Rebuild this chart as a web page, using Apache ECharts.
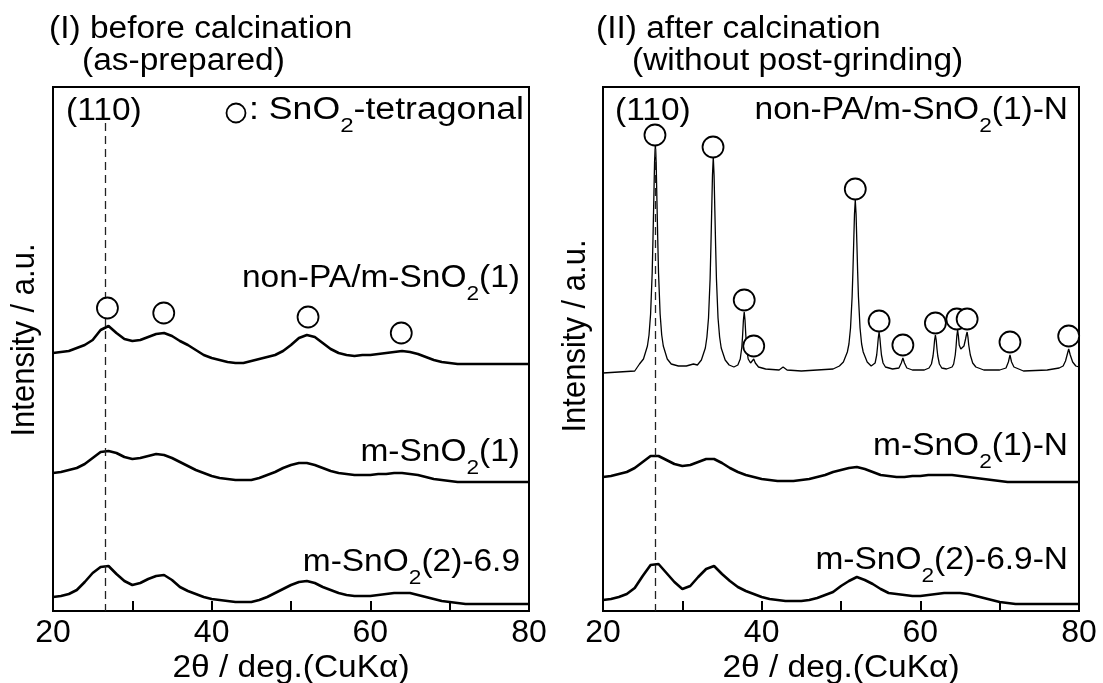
<!DOCTYPE html>
<html><head><meta charset="utf-8">
<script src="https://cdn.jsdelivr.net/npm/echarts@6/dist/echarts.min.js"></script>
<style>html,body{margin:0;padding:0;background:#fff}#c{width:1103px;height:683px}</style>
</head><body><div id="c"></div>
<script>
// 2θ grid (deg) for the broad patterns
const twoTheta = [20,21,22,23,24,25,26,27,28,29,30,31,32,33,34,35,36,37,38,39,40,41,42,43,44,45,46,47,48,49,50,51,52,53,54,55,56,57,58,59,60,61,62,63,64,65,66,67,68,69,70,71,72,73,74,75,76,77,78,79,80];

// Panel (I) before calcination (intensity, a.u., stacked)
const nonPA_1 = [258,259,260,263,266,271,281,285,278,272,270,271,274,277,278,275,270,266,261,256,253,251,249,248,248,250,252,254,256,260,266,273,276,274,268,262,258,256,255,256,256,257,258,259,260,259,257,254,251,249,248,247,247,247,247,247,247,247,247,247,247];
const mSnO2_1 = [138,139,141,143,147,153,159,160,158,154,152,153,155,157,156,153,149,145,141,138,135,133,132,131,131,131,133,136,139,143,146,148,148,146,143,140,138,137,136,136,136,137,137,138,138,137,136,134,132,131,130,129,129,129,129,129,129,129,129,129,129];
const mSnO2_2_69 = [14,15,17,21,29,38,44,45,37,30,26,28,32,35,36,31,24,20,17,14,12,11,10,9,9,9,11,14,18,22,26,29,30,28,24,21,18,16,15,15,15,16,17,18,18,18,16,14,12,10,9,8,7,7,7,7,7,7,7,7,7];

// Panel (II) after calcination
const nonPA_1N_theta = [20,22,24,24.6,25.1,25.6,25.8,26.0,26.2,26.3,26.4,26.5,26.6,26.7,26.8,26.9,27.0,27.2,27.4,27.6,28.1,28.6,29.5,30.5,31.4,31.9,32.4,32.9,33.1,33.3,33.5,33.6,33.7,33.8,33.9,34.0,34.1,34.2,34.3,34.5,34.7,34.9,35.4,35.9,36.5,37.0,37.3,37.5,37.6,37.7,37.8,37.9,38.0,38.1,38.3,38.6,38.8,39.0,39.2,39.6,40.5,42.2,42.7,43.2,45,47,49,49.8,50.3,50.8,51.0,51.2,51.4,51.5,51.6,51.7,51.8,51.9,52.0,52.1,52.2,52.4,52.6,52.8,53.3,53.8,54.0,54.3,54.5,54.6,54.7,54.8,54.9,55.0,55.1,55.3,55.6,56.5,57.3,57.6,57.8,58.0,58.3,59,60.5,61.1,61.4,61.6,61.7,61.8,61.9,62.0,62.1,62.2,62.4,62.7,63.3,64.0,64.2,64.4,64.5,64.6,64.7,64.8,64.9,65.1,65.3,65.5,65.7,65.8,65.9,66.0,66.1,66.3,66.6,67.0,68,70,70.8,71.1,71.3,71.5,71.8,73,76,77.5,78.0,78.3,78.5,78.7,78.9,79.2,79.6,80];
const nonPA_1N = [238,239,240,247,252,265,276,297,338,372,410,449,467,449,410,372,338,297,276,265,252,247,245,245,247,246,251,263,274,293,332,364,400,436,454,436,400,364,332,293,274,263,251,246,244,246,252,264,276,291,299,291,276,264,252,248,249,252,248,244,242,241,244,241,240,241,242,245,249,259,267,283,314,339,368,397,411,397,368,339,314,283,267,259,249,245,246,248,256,264,273,279,273,264,256,248,244,242,243,248,253,248,243,241,241,243,247,255,262,271,276,271,262,255,247,243,242,244,247,256,264,275,281,275,266,262,261,265,272,276,279,274,266,256,248,244,241,241,243,249,256,249,244,240,241,243,245,250,256,262,256,249,245,244];
const mSnO2_1N = [134,135,137,139,143,149,155,155,151,147,145,146,149,152,152,148,143,139,136,134,132,131,130,130,130,131,132,134,136,139,141,143,144,142,139,136,135,134,134,135,135,136,136,136,136,135,134,133,132,131,130,129,129,129,129,129,129,129,129,129,129];
const mSnO2_2_69N = [11,12,14,17,23,35,46,47,38,29,22,25,34,42,45,37,30,24,20,17,14,12,11,10,10,10,11,13,16,19,25,30,34,31,27,22,18,17,16,15,15,16,17,18,18,18,17,15,13,11,9,8,7,7,7,7,7,7,7,7,7];

// SnO2 tetragonal reflections (circle marks)
const circI_theta = [26.86, 33.96, 52.15, 63.9];
const circI_int   = [303, 298, 294, 278];
const circII_theta = [26.55, 33.87, 37.8, 39.0, 51.8, 54.8, 57.8, 61.9, 64.6, 65.9, 71.3, 78.7];
const circII_int   = [476, 464, 311, 265, 422, 290, 266, 288, 292, 292, 269, 275];

// (110) reference line
const ref110 = 26.6;
const refTopI = 488, refTopII = 462;

const xTicks = [20, 40, 60, 80];

const FONT = '"Liberation Sans", Arial, sans-serif';
const SX = 1.08; // horizontal stretch of the lettering in the original figure
const chart = echarts.init(document.getElementById('c'), null, {renderer: 'canvas'});

function pairs(xs, ys) { return xs.map((x, i) => [x, ys[i]]); }

function xAxis(gi) {
  return {
    type: 'value', gridIndex: gi, min: 20, max: 80, interval: 10,
    axisLine: {show: false},
    axisTick: {show: true, inside: true, length: 10, lineStyle: {color: '#000', width: 2}},
    axisLabel: {fontSize: 32, color: '#000', fontFamily: FONT, margin: 6,
      formatter: v => (xTicks.indexOf(v) >= 0 ? String(v) : '')},
    splitLine: {show: false}
  };
}
function yAxis(gi) {
  return {type: 'value', gridIndex: gi, min: 0, max: 524, show: false, splitLine: {show: false}};
}
function lineSeries(gi, data, w) {
  return {type: 'line', xAxisIndex: gi, yAxisIndex: gi, data: data, showSymbol: false, symbol: 'none',
    lineStyle: {color: '#000', width: w}, animation: false, z: 3};
}
function circles(gi, data) {
  return {type: 'scatter', xAxisIndex: gi, yAxisIndex: gi, data: data, symbol: 'circle', symbolSize: 21,
    itemStyle: {color: '#fff', borderColor: '#000', borderWidth: 1.8, opacity: 1}, z: 5, animation: false};
}
function refLine(gi, top) {
  return {type: 'line', xAxisIndex: gi, yAxisIndex: gi, data: [], z: 2,
    markLine: {silent: true, symbol: 'none', animation: false, label: {show: false},
      lineStyle: {type: [8, 5], color: '#222', width: 1.3},
      data: [[{coord: [ref110, top]}, {coord: [ref110, 0]}]]}};
}

// rich text: n = normal token (top aligned), sub = subscript (bottom aligned in a taller line)
const rich = {
  n: {fontSize: 31, fontFamily: FONT, lineHeight: 36, verticalAlign: 'top', fill: '#000'},
  sub: {fontSize: 21, fontFamily: FONT, lineHeight: 42, verticalAlign: 'bottom', fill: '#000'}
};
function txt(x, y, text, align) {
  return {type: 'text', x: x, y: y, z: 10, scaleX: SX,
    style: {text: text, font: '31px ' + FONT, fill: '#000', textAlign: align, textVerticalAlign: 'middle'}};
}
function vtxt(x, y, text) {
  return {type: 'text', x: x, y: y, z: 10, rotation: Math.PI / 2, scaleY: SX,
    style: {text: text, font: '31px ' + FONT, fill: '#000', textAlign: 'center', textVerticalAlign: 'middle'}};
}
// y = approx centre of the normal-size text
function rtxt(x, y, text, align, sx) {
  return {type: 'text', x: x, y: y - 16, z: 10, scaleX: sx || SX,
    style: {text: text, font: '31px ' + FONT, fill: '#000', textAlign: align, textVerticalAlign: 'top', rich: rich}};
}

const option = {
  backgroundColor: '#fff',
  animation: false,
  grid: [
    {left: 53, right: 574, top: 87, bottom: 72, show: true, borderColor: '#000', borderWidth: 2, backgroundColor: 'transparent'},
    {left: 603, right: 24, top: 87, bottom: 72, show: true, borderColor: '#000', borderWidth: 2, backgroundColor: 'transparent'}
  ],
  xAxis: [xAxis(0), xAxis(1)],
  yAxis: [yAxis(0), yAxis(1)],
  series: [
    refLine(0, refTopI),
    refLine(1, refTopII),
    lineSeries(0, pairs(twoTheta, nonPA_1), 2.6),
    lineSeries(0, pairs(twoTheta, mSnO2_1), 2.6),
    lineSeries(0, pairs(twoTheta, mSnO2_2_69), 2.6),
    lineSeries(1, pairs(nonPA_1N_theta, nonPA_1N), 1.3),
    lineSeries(1, pairs(twoTheta, mSnO2_1N), 2.6),
    lineSeries(1, pairs(twoTheta, mSnO2_2_69N), 2.6),
    circles(0, pairs(circI_theta, circI_int)),
    circles(1, pairs(circII_theta, circII_int))
  ],
  graphic: [
    txt(49, 29, '(I) before calcination', 'left'),
    txt(82, 61, '(as-prepared)', 'left'),
    txt(66, 111, '(110)', 'left'),
    {type: 'circle', shape: {cx: 236, cy: 113, r: 9.5}, style: {fill: '#fff', stroke: '#000', lineWidth: 1.8}, z: 10},
    rtxt(524, 111, '{n|: SnO}{sub|2}{n|-tetragonal}', 'right', 1.15),
    rtxt(520, 279, '{n|non-PA/m-SnO}{sub|2}{n|(1)}', 'right'),
    rtxt(520, 453, '{n|m-SnO}{sub|2}{n|(1)}', 'right'),
    rtxt(520, 563, '{n|m-SnO}{sub|2}{n|(2)-6.9}', 'right'),
    vtxt(25, 340, 'Intensity / a.u.'),
    txt(291, 668, '2θ / deg.(CuKα)', 'center'),

    txt(596, 29, '(II) after calcination', 'left'),
    txt(632, 61, '(without post-grinding)', 'left'),
    txt(615, 111, '(110)', 'left'),
    rtxt(1068, 111, '{n|non-PA/m-SnO}{sub|2}{n|(1)-N}', 'right'),
    rtxt(1068, 447, '{n|m-SnO}{sub|2}{n|(1)-N}', 'right'),
    rtxt(1068, 561, '{n|m-SnO}{sub|2}{n|(2)-6.9-N}', 'right'),
    vtxt(576, 336, 'Intensity / a.u.'),
    txt(841, 668, '2θ / deg.(CuKα)', 'center')
  ]
};
chart.setOption(option);
</script>
</body></html>
